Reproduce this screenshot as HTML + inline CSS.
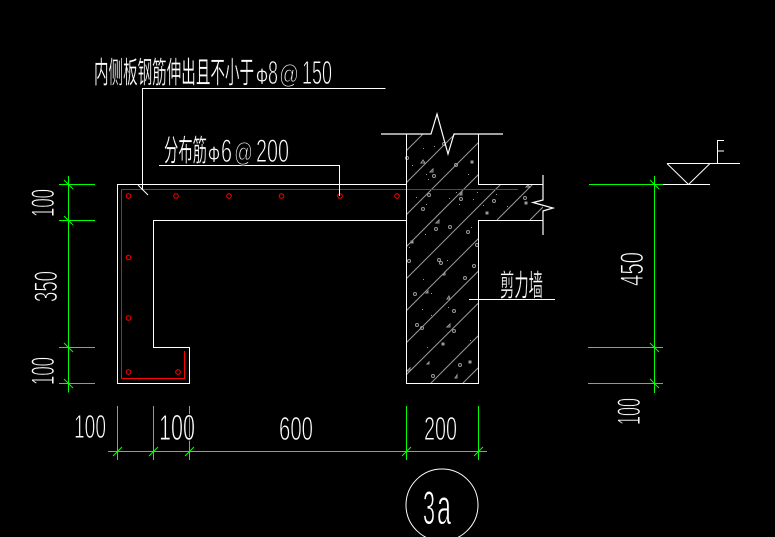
<!DOCTYPE html>
<html><head><meta charset="utf-8">
<style>
html,body{margin:0;padding:0;background:#000;width:775px;height:537px;overflow:hidden}
svg{display:block}
text{fill:#fff;font-family:"Liberation Sans","Noto Sans CJK SC",sans-serif}
.d{stroke:#000;stroke-width:.9px}
.h{stroke:#000;stroke-width:.35px}
</style></head>
<body>
<svg width="775" height="537" viewBox="0 0 775 537" xmlns="http://www.w3.org/2000/svg">
<defs>
<clipPath id="c"><polygon points="406.5,134 478.5,134 478.5,184.5 543,184.5 543,220.5 478.5,220.5 478.5,383.5 406.5,383.5"/></clipPath>
</defs>
<rect width="775" height="537" fill="#000"/>

<!-- hatch -->
<g clip-path="url(#c)" stroke="#999" stroke-width="1" fill="none">
<path d="M390 167L440 117M390 199L470 119M390 231L500 121M390 263L510 143"/>
<path d="M406 279L501 184M406 311L478.5 238.5M497 220L533 184M530 220L550 200"/>
<path d="M406 343L478.5 271M406 375L478.5 303M430 384L478.5 335.5M462 384L478.5 367.5"/>
</g>
<!-- aggregate -->
<g stroke="#999" stroke-width="1" fill="none">
<circle cx="407" cy="158" r="1.5"/><path d="M421 163l2-3 2 3z"/><circle cx="444" cy="144" r="1.5"/><path d="M430 172l3-3v3z"/><circle cx="434" cy="176" r="1.5"/><circle cx="456" cy="165" r="1.5"/><rect x="471" y="161" width="2" height="2" fill="#999"/><circle cx="429" cy="195" r="1.5"/><circle cx="423" cy="209" r="1.5"/><path d="M460 195l2-3v3z"/><circle cx="461" cy="199" r="1.5"/><circle cx="494" cy="201" r="1.5"/><rect x="486" y="212" width="2" height="2" fill="#999"/><path d="M526 187l2-2 2 2z"/><circle cx="525" cy="198" r="1.5"/><rect x="525" y="202" width="2" height="2" fill="#999"/><path d="M436 223l3-3v3z"/><circle cx="450" cy="227" r="1.5"/><circle cx="436" cy="229" r="1.5"/><circle cx="468" cy="232" r="1.5"/><rect x="411" y="241" width="2" height="2" fill="#999"/><circle cx="477" cy="245" r="1.5"/>
<circle cx="409" cy="261" r="1.5"/><circle cx="439" cy="260" r="1.5"/><circle cx="441" cy="263" r="1.5"/><path d="M443 275l2-3v3z"/><circle cx="474" cy="266" r="1.5"/><circle cx="465" cy="278" r="1.5"/><circle cx="415" cy="294" r="1.5"/><path d="M426 293l2-2v2z"/><path d="M447 299l2-3 1 3z"/><circle cx="454" cy="311" r="1.5"/><circle cx="417" cy="325" r="1.5"/><circle cx="422" cy="328" r="1.5"/><path d="M447 327l3-3v3z"/><circle cx="454" cy="331" r="1.5"/><rect x="442" y="343" width="2" height="2" fill="#999"/><path d="M427 364l2-2v2z"/><circle cx="460" cy="365" r="1.5"/><rect x="469" y="361" width="2" height="2" fill="#999"/><path d="M407 371l3-3v3z"/><circle cx="433" cy="376" r="1.5"/><path d="M455 378l2-3v3z"/>
</g>
<g fill="#999">
<rect x="423" y="148" width="1" height="1"/><rect x="434" y="146" width="1" height="1"/><rect x="412" y="165" width="1" height="1"/><rect x="426" y="174" width="1" height="1"/><rect x="428" y="179" width="1" height="1"/><rect x="468" y="174" width="1" height="1"/><rect x="416" y="197" width="1" height="1"/><rect x="426" y="204" width="1" height="1"/><rect x="449" y="198" width="1" height="1"/><rect x="456" y="192" width="1" height="1"/><rect x="459" y="204" width="1" height="1"/><rect x="473" y="199" width="1" height="1"/><rect x="477" y="192" width="1" height="1"/><rect x="483" y="205" width="1" height="1"/><rect x="496" y="194" width="1" height="1"/><rect x="507" y="206" width="1" height="1"/><rect x="425" y="234" width="1" height="1"/><rect x="471" y="227" width="1" height="1"/><rect x="409" y="247" width="1" height="1"/><rect x="447" y="260" width="1" height="1"/><rect x="423" y="279" width="1" height="1"/><rect x="431" y="293" width="1" height="1"/><rect x="422" y="309" width="1" height="1"/><rect x="431" y="315" width="1" height="1"/><rect x="448" y="307" width="1" height="1"/><rect x="427" y="347" width="1" height="1"/><rect x="470" y="340" width="1" height="1"/>
</g>

<!-- red rebar -->
<g fill="none" stroke="#f00" stroke-width="1">
<path shape-rendering="crispEdges" d="M518 189.5H121.5V378.5H184.5V351"/>
<circle cx="128.5" cy="196" r="2.3"/><circle cx="176" cy="196" r="2.3"/><circle cx="229" cy="196" r="2.3"/><circle cx="281.5" cy="196" r="2.3"/><circle cx="340" cy="196" r="2.3"/><circle cx="397" cy="196" r="2.3"/>
<circle cx="128.5" cy="257.5" r="2.3"/><circle cx="128.5" cy="318" r="2.3"/><circle cx="128.5" cy="372" r="2.3"/><circle cx="178" cy="372" r="2.3"/>
</g>

<!-- white outline -->
<g fill="none" stroke="#fff" stroke-width="1.2" shape-rendering="crispEdges">
<path d="M406.5 184.5H117.5V383.5H189.5V347.5H153.5V220.5H406.5"/>
<path d="M406.5 134V383.5H478.5V220.5H543M478.5 134V184.5H543"/>
<path d="M142.5 190V88.5H385.5M159 165.5H339.5V196"/>
<path d="M469 299.5H555M663 184.5H710M667 163.5H740M717.5 163V140.5H724M717.5 151H724"/>
</g>
<g fill="none" stroke="#fff" stroke-width="1">
<path d="M381 134H431L437 114L448 154L454 134H503" stroke-width="1.2"/>
<path d="M543 175V200L533 202.5L553 208L543 211V235" stroke-width="1.2"/>
<path d="M138 185L148 195"/>
<path d="M667 163.5L688.5 184.5L710 163.5"/>
<circle cx="442" cy="505" r="36"/>
</g>

<!-- green dims -->
<g fill="none" stroke="#0f0" stroke-width="1.2" shape-rendering="crispEdges">
<path d="M68.5 176V392.5M59 184.5H95M59 220.5H95M59 347.5H95M59 383.5H95"/>
<path d="M108 451.5H487M117.5 406V460M153.5 406V460M189.5 406V460M406.5 406V460M478.5 406V460"/>
<path d="M654.5 176V393M589 184.5H663M588 347.5H663M588 383.5H663"/>
</g>
<g fill="none" stroke="#0f0" stroke-width="1">
<path d="M64 180L73 189M64 216L73 225M64 343L73 352M64 379L73 388"/>
<path d="M650 180L659 189M650 343L659 352M650 379L659 388"/>
<path d="M113 456L122 447M149 456L158 447M185 456L194 447M402 456L411 447M474 456L483 447"/>
</g>

<!-- text -->
<text class="h" x="94" y="83" font-size="30" textLength="160" lengthAdjust="spacingAndGlyphs">内侧板钢筋伸出且不小于</text>
<text class="h" x="256" y="84" font-size="22" textLength="12" lengthAdjust="spacingAndGlyphs">Φ</text>
<text class="d" x="268" y="84" font-size="33" textLength="10" lengthAdjust="spacingAndGlyphs">8</text>
<text class="d" x="279" y="83" font-size="26" textLength="20" lengthAdjust="spacingAndGlyphs">@</text>
<text class="d" x="302" y="84" font-size="33" textLength="30" lengthAdjust="spacingAndGlyphs">150</text>

<text class="h" x="164" y="161" font-size="30" textLength="43" lengthAdjust="spacingAndGlyphs">分布筋</text>
<text class="h" x="208" y="162" font-size="22" textLength="12" lengthAdjust="spacingAndGlyphs">Φ</text>
<text class="d" x="221" y="162" font-size="32" textLength="11" lengthAdjust="spacingAndGlyphs">6</text>
<text class="d" x="234" y="161" font-size="26" textLength="19" lengthAdjust="spacingAndGlyphs">@</text>
<text class="d" x="256" y="162" font-size="32" textLength="33" lengthAdjust="spacingAndGlyphs">200</text>

<text class="h" x="500" y="296" font-size="30" textLength="43" lengthAdjust="spacingAndGlyphs">剪力墙</text>

<text class="d" x="74" y="438" font-size="33" textLength="32" lengthAdjust="spacingAndGlyphs">100</text>
<text class="d" x="159" y="440" font-size="36" textLength="36" lengthAdjust="spacingAndGlyphs">100</text>
<text class="d" x="279" y="440" font-size="33" textLength="34" lengthAdjust="spacingAndGlyphs">600</text>
<text class="d" x="424" y="440" font-size="33" textLength="33" lengthAdjust="spacingAndGlyphs">200</text>
<text class="d" x="423" y="524" font-size="47" textLength="12" lengthAdjust="spacingAndGlyphs">3</text>
<text class="d" x="437" y="524" font-size="50" textLength="14" lengthAdjust="spacingAndGlyphs">a</text>

<text class="d" transform="translate(54,217) rotate(-90)" font-size="32" textLength="28" lengthAdjust="spacingAndGlyphs">100</text>
<text class="d" transform="translate(57,302) rotate(-90)" font-size="32" textLength="31" lengthAdjust="spacingAndGlyphs">350</text>
<text class="d" transform="translate(54,385) rotate(-90)" font-size="32" textLength="28" lengthAdjust="spacingAndGlyphs">100</text>
<text class="d" transform="translate(643,286) rotate(-90)" font-size="32" textLength="34" lengthAdjust="spacingAndGlyphs">450</text>
<text class="d" transform="translate(640,425) rotate(-90)" font-size="32" textLength="27" lengthAdjust="spacingAndGlyphs">100</text>
</svg>
</body></html>
